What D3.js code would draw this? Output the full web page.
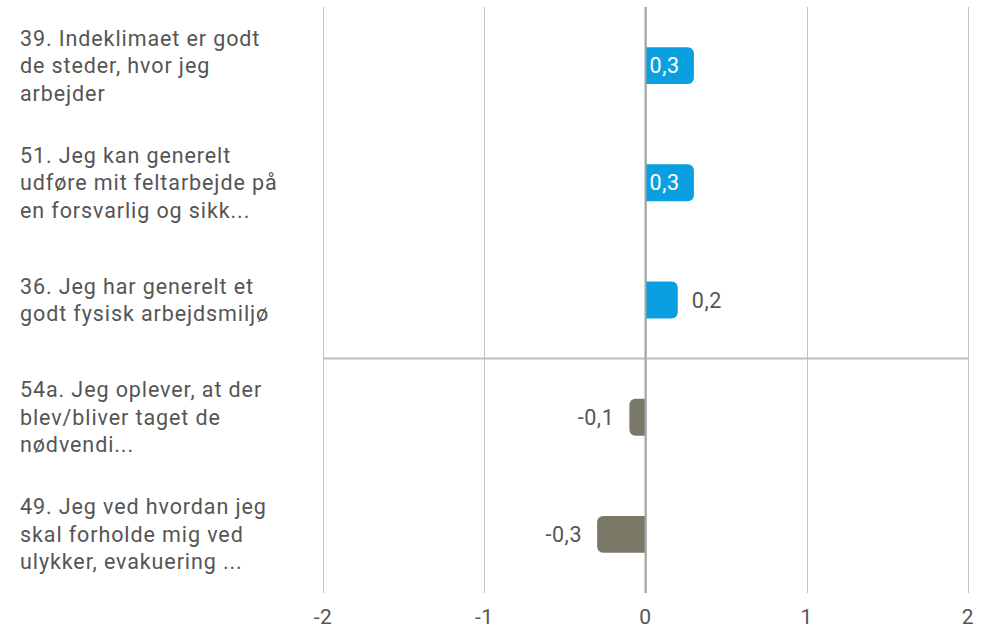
<!DOCTYPE html>
<meta charset="utf-8">
<head>
<script src="https://d3js.org/d3.v7.min.js"></script>
<style>
body { margin: 0; background: #fff; font-family: Roboto, "Noto Sans", sans-serif; }
.grid line { stroke: #c4c4c4; stroke-width: 1; shape-rendering: crispEdges; }
.cat { fill: #555; font-size: 21.5px; letter-spacing: 0.9px; }
.tick-label { fill: #555; font-size: 21px; letter-spacing: 0.5px; }
.val { font-size: 21.5px; letter-spacing: 0.6px; }
</style>
</head>
<body>
<script>

// category labels (as wrapped in the chart)
var categories = [
  ["39. Indeklimaet er godt", "de steder, hvor jeg", "arbejder"],
  ["51. Jeg kan generelt", "udføre mit feltarbejde på", "en forsvarlig og sikk..."],
  ["36. Jeg har generelt et", "godt fysisk arbejdsmiljø"],
  ["54a. Jeg oplever, at der", "blev/bliver taget de", "nødvendi..."],
  ["49. Jeg ved hvordan jeg", "skal forholde mig ved", "ulykker, evakuering ..."]
];
var values = [0.3, 0.3, 0.2, -0.1, -0.3];
var ticks = [-2, -1, 0, 1, 2];

var W = 989, H = 630;
var plot = {left: 323, right: 968, top: 7, bottom: 593};

var x = d3.scaleLinear().domain([-2, 2]).range([plot.left, plot.right]);
var y = d3.scaleBand().domain(d3.range(values.length)).range([plot.top, plot.bottom])
    .paddingInner(0.685).paddingOuter(0.3425);

var fmt = function(v) { return d3.format(".1f")(v).replace(".", ",").replace("−", "-"); };

var svg = d3.select("body").append("svg")
    .attr("width", W)
    .attr("height", H);

// vertical gridlines
svg.append("g")
    .attr("class", "grid")
    .attr("transform", "translate(0," + plot.bottom + ")")
    .call(d3.axisBottom(x).tickValues(ticks).tickSize(-(plot.bottom - plot.top)).tickFormat(""))
    .call(function(g) { g.select(".domain").remove(); });

// divider between positive and negative items
var firstNeg = values.findIndex(function(v) { return v < 0; });
var divY = y(firstNeg) - y.step() * y.paddingInner() / 2;
svg.append("line")
    .attr("x1", plot.left).attr("x2", plot.right)
    .attr("y1", divY).attr("y2", divY)
    .attr("stroke", "#bdbdbd").attr("stroke-width", 2);

// tick labels
svg.selectAll(".tick-label")
    .data(ticks)
    .enter().append("text")
    .attr("class", "tick-label")
    .attr("x", function(d) { return x(d); })
    .attr("y", 617)
    .attr("dy", "0.35em")
    .attr("text-anchor", "middle")
    .text(function(d) { return d < 0 ? "-" + Math.abs(d) : d; });

// bars with rounded outer end
var r = 6;
function barPath(v, i) {
  var x0 = x(0), x1 = x(v), y0 = y(i), h = y.bandwidth();
  var s = v >= 0 ? 1 : -1;
  var p = d3.path();
  p.moveTo(x0, y0);
  p.lineTo(x1 - s * r, y0);
  p.arcTo(x1, y0, x1, y0 + r, r);
  p.lineTo(x1, y0 + h - r);
  p.arcTo(x1, y0 + h, x1 - s * r, y0 + h, r);
  p.lineTo(x0, y0 + h);
  p.closePath();
  return p.toString();
}

svg.selectAll(".bar")
    .data(values)
    .enter().append("path")
    .attr("class", "bar")
    .attr("d", barPath)
    .attr("fill", function(d) { return d >= 0 ? "#0a9fe0" : "#7a7866"; });

// zero line
svg.append("line")
    .attr("x1", x(0)).attr("x2", x(0))
    .attr("y1", plot.top).attr("y2", plot.bottom)
    .attr("stroke", "#a6a6a6").attr("stroke-width", 2);

// value labels
svg.selectAll(".val")
    .data(values)
    .enter().append("text")
    .attr("class", "val")
    .attr("y", function(d, i) { return y(i) + y.bandwidth() / 2; })
    .attr("dy", "0.35em")
    .text(fmt)
    .each(function(d) {
      var t = d3.select(this);
      var tw = this.getComputedTextLength();
      var bw = Math.abs(x(d) - x(0));
      if (d >= 0 && bw > tw + 8) {
        t.attr("x", x(0) + 4).attr("text-anchor", "start").attr("fill", "#fff");
      } else if (d >= 0) {
        t.attr("x", x(d) + 14).attr("text-anchor", "start").attr("fill", "#555");
      } else {
        t.attr("x", x(d) - 15).attr("text-anchor", "end").attr("fill", "#555");
      }
    });

// category labels
var lineH = 27.5;
svg.selectAll(".cat")
    .data(categories)
    .enter().append("text")
    .attr("class", "cat")
    .each(function(lines, i) {
      var cy = y(i) + y.bandwidth() / 2;
      var n = lines.length;
      d3.select(this).selectAll("tspan")
          .data(lines)
          .enter().append("tspan")
          .attr("x", 20)
          .attr("y", function(d, j) { return cy + (j - (n - 1) / 2) * lineH; })
          .attr("dy", "0.35em")
          .text(function(d) { return d; });
    });

</script>
</body>
